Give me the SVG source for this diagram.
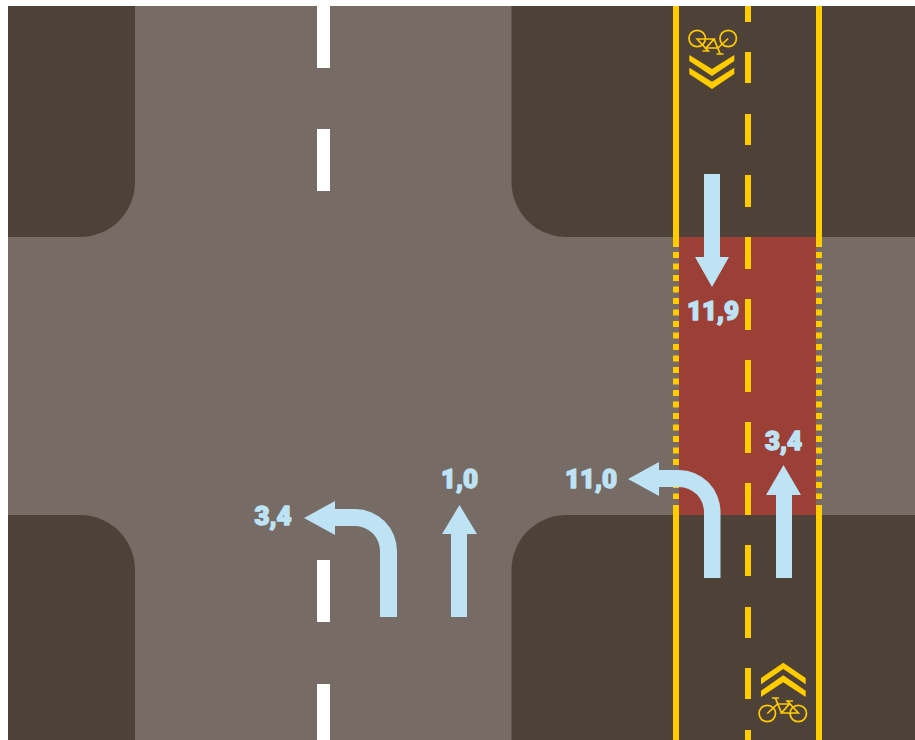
<svg xmlns="http://www.w3.org/2000/svg" width="915" height="740" viewBox="0 0 915 740">
<style>
.lbl{font-family:Roboto,"Liberation Sans",Arial,sans-serif;font-weight:900;font-size:26px;letter-spacing:0;fill:#bde3f5;stroke:#bde3f5;stroke-width:1.4px;stroke-linejoin:round;text-anchor:middle}
.arrow{fill:#bde3f5}
.ya{fill:#ffcc00}
.wh{fill:#fff}
.block{fill:#4e4238}
.bk{fill:none;stroke:#ffcc00;stroke-width:1.7}
.dash{stroke:#ffcc00;stroke-width:6;fill:none}
</style>
<defs>
<g id="bike">
<circle class="bk" cx="-15.7" cy="0" r="8.2"/>
<circle class="bk" cx="15.3" cy="0" r="8.2"/>
<path class="bk" d="M-15.7 0L-5.500 -9.500H6.300L-1.500 -0.500H15.300L4 -13M-7.500 -15L-1.500 -0.500M-11 -15.500H-4M3 -12.500H10"/>
</g>
</defs>
<rect id="bg" width="915" height="740" fill="#fff"/>
<rect id="road" x="8" y="6" width="907" height="734" fill="#766b65"/>
<g id="blocks">
<path class="block" d="M8 6H135V182A55 55 0 0 1 80 237H8Z"/>
<path class="block" d="M915 6H511.500V182A55 55 0 0 0 566.500 237H915Z"/>
<path class="block" d="M8 740H135V570A55 55 0 0 0 80 515H8Z"/>
<path class="block" d="M915 740H511.500V570A55 55 0 0 1 566.500 515H915Z"/>
</g>
<rect id="red-crossing" x="679" y="237" width="137" height="278" fill="#9c4037"/>
<g id="white-dashes" class="wh">
<rect x="317" y="6" width="13" height="62"/>
<rect x="317" y="129" width="13" height="62"/>
<rect x="317" y="560" width="13" height="62"/>
<rect x="317" y="684" width="13" height="56"/>
</g>
<g id="yellow-lines" class="ya">
<rect x="673" y="6" width="6" height="241"/>
<rect x="673" y="505" width="6" height="235"/>
<rect x="816" y="6" width="6" height="241"/>
<rect x="816" y="505" width="6" height="235"/>
</g>
<path id="dots-left" class="dash" stroke-dasharray="6 5.5" d="M676 252V499"/>
<path id="dots-right" class="dash" stroke-dasharray="6 5.5" d="M819 252V499"/>
<g id="center-dashes" class="ya">
<rect x="745" y="6" width="6" height="16"/>
<rect x="745" y="52" width="6" height="31"/>
<rect x="745" y="114" width="6" height="31"/>
<rect x="745" y="175" width="6" height="32"/>
<rect x="745" y="237" width="6" height="32"/>
<rect x="745" y="299" width="6" height="31"/>
<rect x="745" y="360" width="6" height="32"/>
<rect x="745" y="422" width="6" height="31"/>
<rect x="745" y="483" width="6" height="32"/>
<rect x="745" y="545" width="6" height="31"/>
<rect x="745" y="607" width="6" height="31"/>
<rect x="745" y="668" width="6" height="31"/>
<rect x="745" y="730" width="6" height="10"/>
</g>
<g id="bike-top">
<use href="#bike" transform="translate(712.500 38.500) rotate(180)"/>
<path class="ya" d="M689.3 55L712 69L734.3 55V61L712 76L689.3 61Z"/>
<path class="ya" d="M689.3 67.7L712 81.7L734.3 67.7V74L712 89L689.3 74Z"/>
</g>
<g id="bike-bottom">
<use href="#bike" transform="translate(783 713.500)"/>
<path class="ya" d="M761 678L783.3 662.7L805.7 678V684.3L783.3 669L761 684.3Z"/>
<path class="ya" d="M761 690.7L783.3 675.3L805.7 690.7V697L783.3 682.3L761 697Z"/>
</g>
<g id="connectors">
<path id="arrow-down" class="arrow" d="M704 174H720V257H729L712 287L695 257H704Z"/>
<path id="arrow-up-right" class="arrow" d="M776 578V495H766L783.5 465L801 495H792V578Z"/>
<path id="arrow-turn-right" class="arrow" d="M704 578V512A25 25 0 0 0 679 487H659V496L628 479L659 462V470H679A41.500 42 0 0 1 720.500 512V578Z"/>
<path id="arrow-turn-left" class="arrow" d="M380 617V551A25 25 0 0 0 355 526H335V535L304 518L335 501V509H355A42 42 0 0 1 397 551V617Z"/>
<path id="arrow-up-mid" class="arrow" d="M451 617V534H442L459.500 505L477 534H467V617Z"/>
</g>
<g id="labels">
<text class="lbl" x="713" y="320">11,9</text>
<text class="lbl" x="783.500" y="450">3,4</text>
<text class="lbl" x="591" y="488">11,0</text>
<text class="lbl" x="459.500" y="488">1,0</text>
<text class="lbl" x="273" y="525">3,4</text>
</g>
</svg>
